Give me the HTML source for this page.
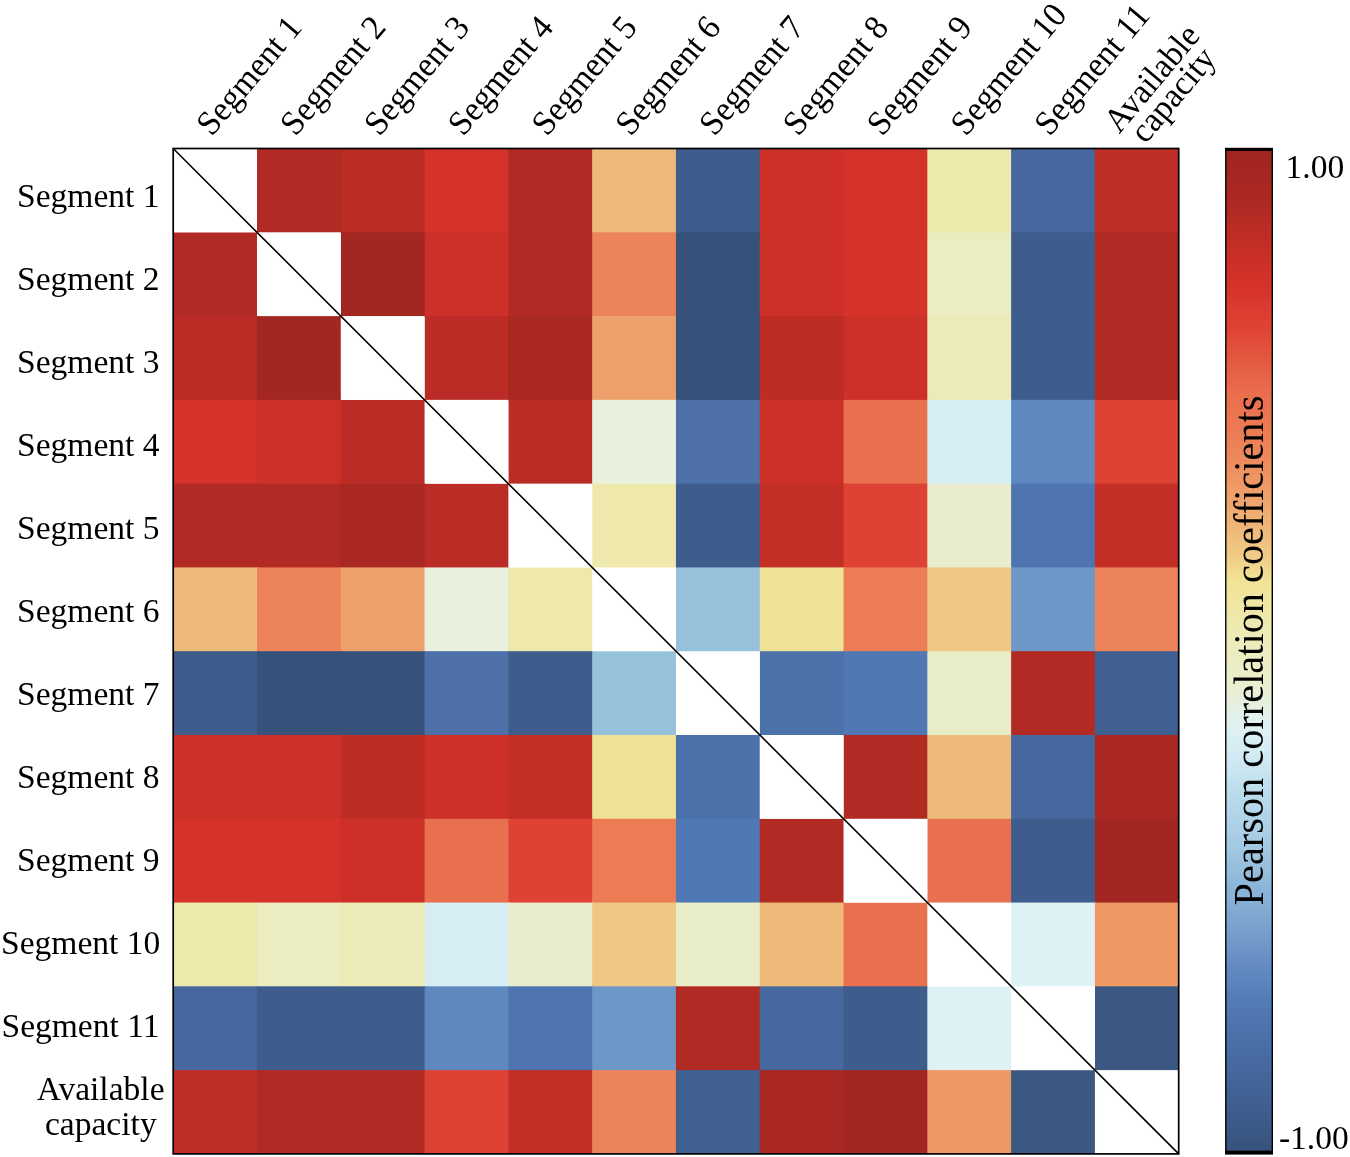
<!DOCTYPE html>
<html lang="en"><head><meta charset="utf-8"><title>Pearson correlation heatmap</title>
<style>
html,body{margin:0;padding:0;background:#fff;}
body{width:1350px;height:1157px;overflow:hidden;}
svg{display:block;}
text{font-family:"Liberation Serif",serif;font-size:34.50px;fill:#000;}
</style></head><body>
<svg width="1350" height="1157" viewBox="0 0 1350 1157">
<rect x="0" y="0" width="1350" height="1157" fill="#ffffff"/>
<clipPath id="gridclip"><rect x="173.20" y="148.50" width="1005.50" height="1005.40"/></clipPath>
<g id="cells" clip-path="url(#gridclip)">
<rect x="256.99" y="148.50" width="84.79" height="84.78" fill="#b22a24"/>
<rect x="340.78" y="148.50" width="84.79" height="84.78" fill="#ba2c25"/>
<rect x="424.57" y="148.50" width="84.79" height="84.78" fill="#d5322a"/>
<rect x="508.37" y="148.50" width="84.79" height="84.78" fill="#b22a24"/>
<rect x="592.16" y="148.50" width="84.79" height="84.78" fill="#eeba7a"/>
<rect x="675.95" y="148.50" width="84.79" height="84.78" fill="#3e5d8c"/>
<rect x="759.74" y="148.50" width="84.79" height="84.78" fill="#cd3028"/>
<rect x="843.53" y="148.50" width="84.79" height="84.78" fill="#d5322a"/>
<rect x="927.33" y="148.50" width="84.79" height="84.78" fill="#ede9ad"/>
<rect x="1011.12" y="148.50" width="84.79" height="84.78" fill="#46689e"/>
<rect x="1094.91" y="148.50" width="84.79" height="84.78" fill="#bf2e26"/>
<rect x="173.20" y="232.28" width="84.79" height="84.78" fill="#b22a24"/>
<rect x="340.78" y="232.28" width="84.79" height="84.78" fill="#a22621"/>
<rect x="424.57" y="232.28" width="84.79" height="84.78" fill="#cd3028"/>
<rect x="508.37" y="232.28" width="84.79" height="84.78" fill="#b22a24"/>
<rect x="592.16" y="232.28" width="84.79" height="84.78" fill="#ed835a"/>
<rect x="675.95" y="232.28" width="84.79" height="84.78" fill="#37527a"/>
<rect x="759.74" y="232.28" width="84.79" height="84.78" fill="#cd3028"/>
<rect x="843.53" y="232.28" width="84.79" height="84.78" fill="#d5322a"/>
<rect x="927.33" y="232.28" width="84.79" height="84.78" fill="#ebecc0"/>
<rect x="1011.12" y="232.28" width="84.79" height="84.78" fill="#3e5d8c"/>
<rect x="1094.91" y="232.28" width="84.79" height="84.78" fill="#b22a24"/>
<rect x="173.20" y="316.07" width="84.79" height="84.78" fill="#ba2c25"/>
<rect x="256.99" y="316.07" width="84.79" height="84.78" fill="#a22621"/>
<rect x="424.57" y="316.07" width="84.79" height="84.78" fill="#ba2c25"/>
<rect x="508.37" y="316.07" width="84.79" height="84.78" fill="#a92822"/>
<rect x="592.16" y="316.07" width="84.79" height="84.78" fill="#eea06a"/>
<rect x="675.95" y="316.07" width="84.79" height="84.78" fill="#37527a"/>
<rect x="759.74" y="316.07" width="84.79" height="84.78" fill="#bd2c25"/>
<rect x="843.53" y="316.07" width="84.79" height="84.78" fill="#cd3028"/>
<rect x="927.33" y="316.07" width="84.79" height="84.78" fill="#eceab6"/>
<rect x="1011.12" y="316.07" width="84.79" height="84.78" fill="#3e5d8c"/>
<rect x="1094.91" y="316.07" width="84.79" height="84.78" fill="#b22a24"/>
<rect x="173.20" y="399.85" width="84.79" height="84.78" fill="#d5322a"/>
<rect x="256.99" y="399.85" width="84.79" height="84.78" fill="#cd3028"/>
<rect x="340.78" y="399.85" width="84.79" height="84.78" fill="#ba2c25"/>
<rect x="508.37" y="399.85" width="84.79" height="84.78" fill="#ba2c25"/>
<rect x="592.16" y="399.85" width="84.79" height="84.78" fill="#e8f0de"/>
<rect x="675.95" y="399.85" width="84.79" height="84.78" fill="#4d71a8"/>
<rect x="759.74" y="399.85" width="84.79" height="84.78" fill="#cd3028"/>
<rect x="843.53" y="399.85" width="84.79" height="84.78" fill="#e8704e"/>
<rect x="927.33" y="399.85" width="84.79" height="84.78" fill="#d6eef3"/>
<rect x="1011.12" y="399.85" width="84.79" height="84.78" fill="#5e88be"/>
<rect x="1094.91" y="399.85" width="84.79" height="84.78" fill="#de4234"/>
<rect x="173.20" y="483.63" width="84.79" height="84.78" fill="#b22a24"/>
<rect x="256.99" y="483.63" width="84.79" height="84.78" fill="#b22a24"/>
<rect x="340.78" y="483.63" width="84.79" height="84.78" fill="#a92822"/>
<rect x="424.57" y="483.63" width="84.79" height="84.78" fill="#ba2c25"/>
<rect x="592.16" y="483.63" width="84.79" height="84.78" fill="#eee8ac"/>
<rect x="675.95" y="483.63" width="84.79" height="84.78" fill="#3e5d8c"/>
<rect x="759.74" y="483.63" width="84.79" height="84.78" fill="#c32e26"/>
<rect x="843.53" y="483.63" width="84.79" height="84.78" fill="#de4234"/>
<rect x="927.33" y="483.63" width="84.79" height="84.78" fill="#eaedcd"/>
<rect x="1011.12" y="483.63" width="84.79" height="84.78" fill="#4e75af"/>
<rect x="1094.91" y="483.63" width="84.79" height="84.78" fill="#c32e26"/>
<rect x="173.20" y="567.42" width="84.79" height="84.78" fill="#eeba7a"/>
<rect x="256.99" y="567.42" width="84.79" height="84.78" fill="#ed835a"/>
<rect x="340.78" y="567.42" width="84.79" height="84.78" fill="#eea06a"/>
<rect x="424.57" y="567.42" width="84.79" height="84.78" fill="#e8f0de"/>
<rect x="508.37" y="567.42" width="84.79" height="84.78" fill="#eee8ac"/>
<rect x="675.95" y="567.42" width="84.79" height="84.78" fill="#96c1db"/>
<rect x="759.74" y="567.42" width="84.79" height="84.78" fill="#efe296"/>
<rect x="843.53" y="567.42" width="84.79" height="84.78" fill="#ec7c54"/>
<rect x="927.33" y="567.42" width="84.79" height="84.78" fill="#eec882"/>
<rect x="1011.12" y="567.42" width="84.79" height="84.78" fill="#6d97c6"/>
<rect x="1094.91" y="567.42" width="84.79" height="84.78" fill="#ed835a"/>
<rect x="173.20" y="651.20" width="84.79" height="84.78" fill="#3e5d8c"/>
<rect x="256.99" y="651.20" width="84.79" height="84.78" fill="#37527a"/>
<rect x="340.78" y="651.20" width="84.79" height="84.78" fill="#37527a"/>
<rect x="424.57" y="651.20" width="84.79" height="84.78" fill="#4d71a8"/>
<rect x="508.37" y="651.20" width="84.79" height="84.78" fill="#3e5d8c"/>
<rect x="592.16" y="651.20" width="84.79" height="84.78" fill="#96c1db"/>
<rect x="759.74" y="651.20" width="84.79" height="84.78" fill="#4c72ac"/>
<rect x="843.53" y="651.20" width="84.79" height="84.78" fill="#5078b4"/>
<rect x="927.33" y="651.20" width="84.79" height="84.78" fill="#e8edc8"/>
<rect x="1011.12" y="651.20" width="84.79" height="84.78" fill="#b22a24"/>
<rect x="1094.91" y="651.20" width="84.79" height="84.78" fill="#406092"/>
<rect x="173.20" y="734.98" width="84.79" height="84.78" fill="#cd3028"/>
<rect x="256.99" y="734.98" width="84.79" height="84.78" fill="#cd3028"/>
<rect x="340.78" y="734.98" width="84.79" height="84.78" fill="#bd2c25"/>
<rect x="424.57" y="734.98" width="84.79" height="84.78" fill="#cd3028"/>
<rect x="508.37" y="734.98" width="84.79" height="84.78" fill="#c32e26"/>
<rect x="592.16" y="734.98" width="84.79" height="84.78" fill="#efe296"/>
<rect x="675.95" y="734.98" width="84.79" height="84.78" fill="#4c72ac"/>
<rect x="843.53" y="734.98" width="84.79" height="84.78" fill="#b22a24"/>
<rect x="927.33" y="734.98" width="84.79" height="84.78" fill="#eeba7a"/>
<rect x="1011.12" y="734.98" width="84.79" height="84.78" fill="#46689e"/>
<rect x="1094.91" y="734.98" width="84.79" height="84.78" fill="#a92822"/>
<rect x="173.20" y="818.77" width="84.79" height="84.78" fill="#d5322a"/>
<rect x="256.99" y="818.77" width="84.79" height="84.78" fill="#d5322a"/>
<rect x="340.78" y="818.77" width="84.79" height="84.78" fill="#cd3028"/>
<rect x="424.57" y="818.77" width="84.79" height="84.78" fill="#e8704e"/>
<rect x="508.37" y="818.77" width="84.79" height="84.78" fill="#de4234"/>
<rect x="592.16" y="818.77" width="84.79" height="84.78" fill="#ec7c54"/>
<rect x="675.95" y="818.77" width="84.79" height="84.78" fill="#5078b4"/>
<rect x="759.74" y="818.77" width="84.79" height="84.78" fill="#b22a24"/>
<rect x="927.33" y="818.77" width="84.79" height="84.78" fill="#e8704e"/>
<rect x="1011.12" y="818.77" width="84.79" height="84.78" fill="#3e5d8c"/>
<rect x="1094.91" y="818.77" width="84.79" height="84.78" fill="#a22621"/>
<rect x="173.20" y="902.55" width="84.79" height="84.78" fill="#ede9ad"/>
<rect x="256.99" y="902.55" width="84.79" height="84.78" fill="#ebecc0"/>
<rect x="340.78" y="902.55" width="84.79" height="84.78" fill="#eceab6"/>
<rect x="424.57" y="902.55" width="84.79" height="84.78" fill="#d6eef3"/>
<rect x="508.37" y="902.55" width="84.79" height="84.78" fill="#eaedcd"/>
<rect x="592.16" y="902.55" width="84.79" height="84.78" fill="#eec882"/>
<rect x="675.95" y="902.55" width="84.79" height="84.78" fill="#e8edc8"/>
<rect x="759.74" y="902.55" width="84.79" height="84.78" fill="#eeba7a"/>
<rect x="843.53" y="902.55" width="84.79" height="84.78" fill="#e8704e"/>
<rect x="1011.12" y="902.55" width="84.79" height="84.78" fill="#def2f6"/>
<rect x="1094.91" y="902.55" width="84.79" height="84.78" fill="#ee9864"/>
<rect x="173.20" y="986.33" width="84.79" height="84.78" fill="#46689e"/>
<rect x="256.99" y="986.33" width="84.79" height="84.78" fill="#3e5d8c"/>
<rect x="340.78" y="986.33" width="84.79" height="84.78" fill="#3e5d8c"/>
<rect x="424.57" y="986.33" width="84.79" height="84.78" fill="#5e88be"/>
<rect x="508.37" y="986.33" width="84.79" height="84.78" fill="#4e75af"/>
<rect x="592.16" y="986.33" width="84.79" height="84.78" fill="#6d97c6"/>
<rect x="675.95" y="986.33" width="84.79" height="84.78" fill="#b22a24"/>
<rect x="759.74" y="986.33" width="84.79" height="84.78" fill="#46689e"/>
<rect x="843.53" y="986.33" width="84.79" height="84.78" fill="#3e5d8c"/>
<rect x="927.33" y="986.33" width="84.79" height="84.78" fill="#def2f6"/>
<rect x="1094.91" y="986.33" width="84.79" height="84.78" fill="#3a5882"/>
<rect x="173.20" y="1070.12" width="84.79" height="84.78" fill="#bf2e26"/>
<rect x="256.99" y="1070.12" width="84.79" height="84.78" fill="#b22a24"/>
<rect x="340.78" y="1070.12" width="84.79" height="84.78" fill="#b22a24"/>
<rect x="424.57" y="1070.12" width="84.79" height="84.78" fill="#de4234"/>
<rect x="508.37" y="1070.12" width="84.79" height="84.78" fill="#c32e26"/>
<rect x="592.16" y="1070.12" width="84.79" height="84.78" fill="#ed835a"/>
<rect x="675.95" y="1070.12" width="84.79" height="84.78" fill="#406092"/>
<rect x="759.74" y="1070.12" width="84.79" height="84.78" fill="#a92822"/>
<rect x="843.53" y="1070.12" width="84.79" height="84.78" fill="#a22621"/>
<rect x="927.33" y="1070.12" width="84.79" height="84.78" fill="#ee9864"/>
<rect x="1011.12" y="1070.12" width="84.79" height="84.78" fill="#3a5882"/>
</g>
<g id="diag" fill="#ffffff">
<rect x="173.20" y="148.50" width="83.79" height="83.78"/>
<rect x="256.99" y="232.28" width="83.79" height="83.78"/>
<rect x="340.78" y="316.07" width="83.79" height="83.78"/>
<rect x="424.57" y="399.85" width="83.79" height="83.78"/>
<rect x="508.37" y="483.63" width="83.79" height="83.78"/>
<rect x="592.16" y="567.42" width="83.79" height="83.78"/>
<rect x="675.95" y="651.20" width="83.79" height="83.78"/>
<rect x="759.74" y="734.98" width="83.79" height="83.78"/>
<rect x="843.53" y="818.77" width="83.79" height="83.78"/>
<rect x="927.33" y="902.55" width="83.79" height="83.78"/>
<rect x="1011.12" y="986.33" width="83.79" height="83.78"/>
<rect x="1094.91" y="1070.12" width="83.79" height="83.78"/>
</g>
<line x1="173.20" y1="148.50" x2="1178.70" y2="1153.90" stroke="#000" stroke-width="1.6"/>
<rect x="173.20" y="148.50" width="1005.50" height="1005.40" fill="none" stroke="#000" stroke-width="1.7"/>
<g id="ylabels" text-anchor="end">
<text transform="translate(159.50,207.40) scale(0.972,1)">Segment 1</text>
<text transform="translate(159.50,290.40) scale(0.972,1)">Segment 2</text>
<text transform="translate(159.50,373.40) scale(0.972,1)">Segment 3</text>
<text transform="translate(159.50,456.40) scale(0.972,1)">Segment 4</text>
<text transform="translate(159.50,539.40) scale(0.972,1)">Segment 5</text>
<text transform="translate(159.50,622.40) scale(0.972,1)">Segment 6</text>
<text transform="translate(159.50,705.40) scale(0.972,1)">Segment 7</text>
<text transform="translate(159.50,788.40) scale(0.972,1)">Segment 8</text>
<text transform="translate(159.50,871.40) scale(0.972,1)">Segment 9</text>
<text transform="translate(160.30,954.40) scale(0.972,1)">Segment 10</text>
<text transform="translate(159.50,1037.40) scale(0.972,1)">Segment 11</text>
</g>
<g text-anchor="middle">
<text transform="translate(100.6,1099.60) scale(0.972,1)">Available</text>
<text transform="translate(100.8,1135.10) scale(0.972,1)">capacity</text>
</g>
<g id="xlabels">
<text transform="translate(211.80,137.30) rotate(-50) scale(0.972,1)">Segment 1</text>
<text transform="translate(295.59,137.30) rotate(-50) scale(0.972,1)">Segment 2</text>
<text transform="translate(379.38,137.30) rotate(-50) scale(0.972,1)">Segment 3</text>
<text transform="translate(463.17,137.30) rotate(-50) scale(0.972,1)">Segment 4</text>
<text transform="translate(546.96,137.30) rotate(-50) scale(0.972,1)">Segment 5</text>
<text transform="translate(630.75,137.30) rotate(-50) scale(0.972,1)">Segment 6</text>
<text transform="translate(714.55,137.30) rotate(-50) scale(0.972,1)">Segment 7</text>
<text transform="translate(798.34,137.30) rotate(-50) scale(0.972,1)">Segment 8</text>
<text transform="translate(882.13,137.30) rotate(-50) scale(0.972,1)">Segment 9</text>
<text transform="translate(965.92,137.30) rotate(-50) scale(0.972,1)">Segment 10</text>
<text transform="translate(1049.71,137.30) rotate(-50) scale(0.972,1)">Segment 11</text>
<text transform="translate(1119.20,134.40) rotate(-50) scale(0.972,1)">Available</text>
<text transform="translate(1145.60,144.70) rotate(-50) scale(0.972,1)">capacity</text>
</g>
<defs><linearGradient id="cb" x1="0" y1="0" x2="0" y2="1">
<stop offset="0.000" stop-color="#9e2420"/>
<stop offset="0.058" stop-color="#af2923"/>
<stop offset="0.097" stop-color="#c32e26"/>
<stop offset="0.137" stop-color="#d6322a"/>
<stop offset="0.180" stop-color="#de4435"/>
<stop offset="0.240" stop-color="#e96c4c"/>
<stop offset="0.285" stop-color="#ec7d55"/>
<stop offset="0.330" stop-color="#ee9664"/>
<stop offset="0.374" stop-color="#efb476"/>
<stop offset="0.407" stop-color="#f0cd87"/>
<stop offset="0.430" stop-color="#f1e496"/>
<stop offset="0.464" stop-color="#eee8aa"/>
<stop offset="0.497" stop-color="#ececbe"/>
<stop offset="0.523" stop-color="#eceec8"/>
<stop offset="0.555" stop-color="#e6f0e1"/>
<stop offset="0.578" stop-color="#def1f5"/>
<stop offset="0.612" stop-color="#cde8f2"/>
<stop offset="0.645" stop-color="#b9daeb"/>
<stop offset="0.690" stop-color="#a5cbe4"/>
<stop offset="0.735" stop-color="#8cb6d8"/>
<stop offset="0.778" stop-color="#78a0cd"/>
<stop offset="0.811" stop-color="#648cc3"/>
<stop offset="0.845" stop-color="#547cb8"/>
<stop offset="0.867" stop-color="#4e75b0"/>
<stop offset="0.900" stop-color="#486ca4"/>
<stop offset="0.945" stop-color="#406092"/>
<stop offset="0.990" stop-color="#38547e"/>
<stop offset="1.000" stop-color="#37527a"/>
</linearGradient></defs>
<rect x="1225.80" y="148.50" width="46.50" height="1005.40" fill="url(#cb)" stroke="#000" stroke-width="1.4"/>
<rect x="1225.10" y="148.00" width="47.90" height="3" fill="#000"/>
<rect x="1225.10" y="1150.60" width="47.90" height="3.3" fill="#000"/>
<text transform="translate(1285.6,178.0) scale(0.972,1)">1.00</text>
<text transform="translate(1278.9,1149.3) scale(0.972,1)">-1.00</text>
<text transform="translate(1262.5,650.5) rotate(-90) scale(0.972,1)" text-anchor="middle" style="font-size:41.50px">Pearson correlation coefficients</text>
</svg>
</body></html>
